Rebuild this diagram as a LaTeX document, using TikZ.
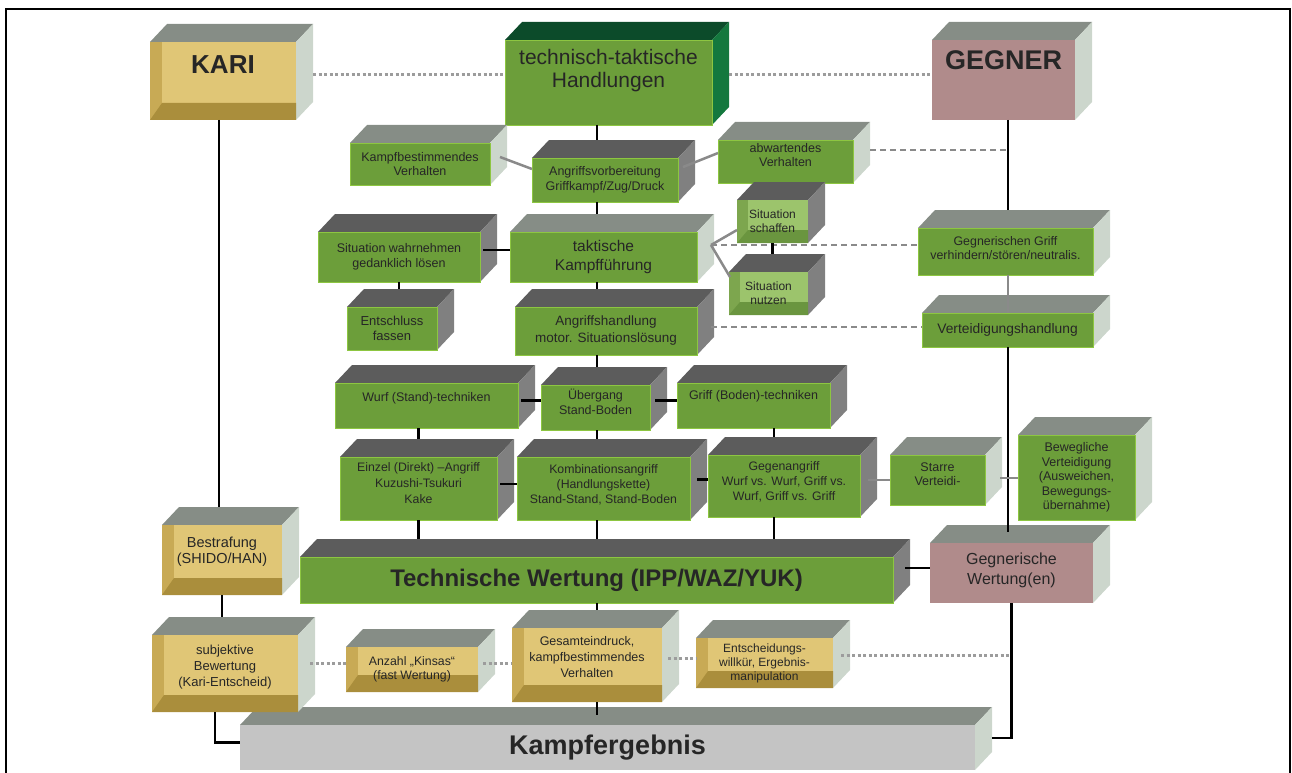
\documentclass[tikz,border=0pt]{standalone}
\usepackage{fontspec}
\setmainfont{Liberation Sans}
\usetikzlibrary{calc}

\definecolor{boxgreen}{HTML}{6C9E3A}
\definecolor{edgegreen}{HTML}{8DC641}
\definecolor{topgrey}{HTML}{868D86}
\definecolor{sidegrey}{HTML}{CCD6CC}
\definecolor{topdark}{HTML}{5C5C5C}
\definecolor{sidedark}{HTML}{808080}
\definecolor{tttop}{HTML}{0C4B2A}
\definecolor{ttside}{HTML}{14783E}
\definecolor{kgold}{HTML}{C8AA55}
\definecolor{kgoldlt}{HTML}{E0C676}
\definecolor{kgolddk}{HTML}{AA8E3C}
\definecolor{sitbase}{HTML}{7DA64E}
\definecolor{sitlt}{HTML}{9CC46C}
\definecolor{sitdk}{HTML}{6A953F}
\definecolor{rosy}{HTML}{B08B8B}
\definecolor{ergrey}{HTML}{C4C4C4}
\definecolor{linegrey}{HTML}{8A8A8A}
\definecolor{dotgrey}{HTML}{9C9C9C}

% text block raised inside its box
\newcommand\liftup[2]{\raisebox{#1}[\height][\depth]{\begin{tabular}{@{}c@{}}#2\end{tabular}}}

\begin{document}
\begin{tikzpicture}[
        %one unit is one pixel of the sheet, y runs downwards
        x=1pt, y=-1pt,
        every node/.style={inner sep=2pt, outer sep=0pt, align=center, text=black!85},
        wh/.style 2 args={minimum width=#1pt, minimum height=#2pt},
        fs/.style 2 args={font=\fontsize{#1}{#2}\selectfont},
        % front face plus top and side face
        cube/.style n args={3}{fill=#1, append after command={\pgfextra{
            \fill[#2] (\tikzlastnode.north west) -- ++(17pt,18pt)
                -- ([shift={(17pt,18pt)}]\tikzlastnode.north east) -- (\tikzlastnode.north east) -- cycle;
            \fill[#3] (\tikzlastnode.north east) -- ++(17pt,18pt)
                -- ([shift={(17pt,18pt)}]\tikzlastnode.south east) -- (\tikzlastnode.south east) -- cycle;}}},
        bevel/.style n args={4}{path picture={
            \fill[#1] ([xshift=#3pt]path picture bounding box.north west)
                rectangle ([yshift=#4pt]path picture bounding box.south east);
            \fill[#2] (path picture bounding box.south west)
                -- ([shift={(#3pt,#4pt)}]path picture bounding box.south west)
                -- ([yshift=#4pt]path picture bounding box.south east)
                -- (path picture bounding box.south east) -- cycle;}},
        flatbox/.style={cube={boxgreen}{topdark}{sidedark}, draw=edgegreen, line width=0.8pt},
        litebox/.style={cube={boxgreen}{topgrey}{sidegrey}, draw=edgegreen, line width=0.8pt},
        goldbox/.style={cube={kgold}{topgrey}{sidegrey}, bevel={kgoldlt}{kgolddk}{12}{17}},
        sitbox/.style={cube={sitbase}{topdark}{sidedark}, bevel={sitlt}{sitdk}{11}{13}},
        rosebox/.style={cube={rosy}{topgrey}{sidegrey}},
        small/.style={fs={12.5}{14.5}},
        link/.style={line width=2.5pt},
        glink/.style={line width=2.5pt, draw=linegrey},
        dashlink/.style={line width=2pt, draw=linegrey, dash pattern=on 6pt off 4pt},
        dotlink/.style={line width=3pt, draw=dotgrey, dash pattern=on 3pt off 2.5pt}
     ]
\useasboundingbox (0,0) rectangle (1292,773);
\draw[line width=2pt] (6,773) -- (6,9) -- (1290,9) -- (1290,773);

% columns of the long vertical lines
\coordinate (trunk) at (597,0);
\coordinate (gcol) at (774,0);
\coordinate (gline) at (1008,0);

% top row
\node[goldbox, wh={146}{78}, font=\fontsize{26}{28}\selectfont\bfseries,
      text height=19pt, text depth=33pt] (kari) at (223,81) {KARI};
\node[cube={boxgreen}{tttop}{ttside}, draw=edgegreen, line width=0.8pt, wh={207}{85},
      fs={21}{23.5}] (tt) at (608.5,82.5) {\liftup{11pt}{technisch-taktische\\Handlungen}};
\node[rosebox, wh={143}{80}, font=\fontsize{27}{29}\selectfont\bfseries,
      text height=20pt, text depth=40pt] (gegner) at (1003.5,80) {GEGNER};

% attack preparation
\node[litebox, wh={140}{42}, fs={12.5}{13.5}] (kampfbest) at (420,164) {Kampfbestimmendes\\Verhalten};
\node[flatbox, wh={146}{44}, small] (angrvorb) at (605,180) {Angriffsvorbereitung\\Griffkampf/Zug/Druck};
\node[litebox, wh={135}{43}, fs={12.5}{14.5}] (abwart) at (785.5,161.5) {\liftup{5pt}{abwartendes\\Verhalten}};

% tactics
\node[flatbox, wh={162}{50}, fs={12.5}{15}] (sitwahr) at (399,257) {Situation wahrnehmen\\gedanklich lösen};
\node[litebox, wh={187}{50}, fs={15.5}{18.5}] (taktisch) at (603.5,257) {taktische\\Kampfführung};
\node[sitbox, wh={71}{43}, fs={12}{14}] (sitschaff) at (772.5,221.5) {Situation\\schaffen};
\node[sitbox, wh={79}{43}, fs={12}{14}] (sitnutz) at (768.5,293.5) {Situation\\nutzen};
\node[litebox, wh={175}{47}, fs={12.4}{14.5}] (ggriff) at (1005.5,251.5) {\liftup{2pt}{Gegnerischen Griff\\verhindern/stören/neutralis.}};
\node[flatbox, wh={90}{43}, fs={13}{15}] (entschluss) at (392,328.5) {Entschluss\\fassen};
\node[flatbox, wh={182}{48}, fs={13.5}{17}] (angrhandl) at (606,331) {Angriffshandlung\\motor. Situationslösung};
\node[litebox, wh={171}{34}, fs={13.8}{16}] (verteid) at (1007.5,330) {Verteidigungshandlung};

% techniques
\node[flatbox, wh={183}{45}, small, text height=9pt, text depth=17pt] (wurf) at (426.5,405.5) {Wurf (Stand)-techniken};
\node[flatbox, wh={109}{45}, fs={12.5}{15}] (uebergang) at (595.5,407.5) {\liftup{4pt}{Übergang\\Stand-Boden}};
\node[flatbox, wh={153}{45}, small, text height=9pt, text depth=21pt] (griff) at (753.5,405.5) {Griff (Boden)-techniken};
\node[flatbox, wh={157}{63}, fs={12.3}{16}] (einzel) at (418.5,488.5) {\liftup{4pt}{Einzel (Direkt) –Angriff\\Kuzushi-Tsukuri\\Kake}};
\node[flatbox, wh={173}{63}, fs={12.3}{15}] (kombi) at (603.5,488.5) {\liftup{3pt}{Kombinationsangriff\\(Handlungskette)\\Stand-Stand, Stand-Boden}};
\node[flatbox, wh={152}{62}, fs={12.3}{15}] (gegenangr) at (784,486) {\liftup{4pt}{Gegenangriff\\Wurf vs. Wurf, Griff vs.\\Wurf, Griff vs. Griff}};
\node[litebox, wh={95}{50}, fs={12.5}{14}] (starre) at (937.5,480) {\liftup{4pt}{Starre\\Verteidi-}};
\node[litebox, wh={117}{85}, fs={12.5}{14.5}] (beweglich) at (1076.5,477.5) {Bewegliche\\Verteidigung\\(Ausweichen,\\Bewegungs-\\übernahme)};

% scoring
\node[goldbox, wh={120}{70}, fs={14.5}{16.5}] (bestrafung) at (222,560) {\liftup{8pt}{Bestrafung\\(SHIDO/HAN)}};
\node[flatbox, wh={593}{46}, font=\fontsize{24}{26}\selectfont\bfseries] (techwert) at (596.5,580) {Technische Wertung (IPP/WAZ/YUK)};
\node[rosebox, wh={163}{60}, fs={16}{20}] (gwertung) at (1011.5,573) {\liftup{2.5pt}{Gegnerische\\Wertung(en)}};
\node[cube={ergrey}{topgrey}{sidegrey}, wh={735}{45}, font=\fontsize{27}{29}\selectfont\bfseries] (kampferg) at (607.5,747.5) {Kampfergebnis};
\node[goldbox, wh={146}{77}, fs={13}{16}] (subjektiv) at (225,673.5) {\liftup{6pt}{subjektive\\Bewertung\\(Kari-Entscheid)}};
\node[goldbox, wh={132}{45}, fs={12.3}{13.5}] (anzahl) at (412,669.5) {Anzahl „Kinsas“\\(fast Wertung)};
\node[goldbox, wh={150}{74}, fs={12.5}{16}] (gesamt) at (587,665) {\liftup{7pt}{Gesamteindruck,\\kampfbestimmendes\\Verhalten}};
\node[goldbox, wh={137}{50}, fs={12}{14}] (entscheid) at (764.5,663) {Entscheidungs-\\willkür, Ergebnis-\\manipulation};

% dotted and dashed relations
\draw[dotlink] ($(kari.east)+(17,-6)$) -- ($(tt.west)+(0,-7.5)$);
\draw[dotlink] ($(tt.east)+(17,-7.5)$) -- ($(gegner.west)+(0,-5)$);
\draw[dashlink] ($(abwart.east)+(17,-12)$) -- ($(gline |- abwart.east)+(0,-12)$);
\coordinate (tip) at ($(taktisch.east)+(14,-12)$);
\draw[dashlink] (tip) -- (tip -| ggriff.west);
\draw[dashlink] ($(angrhandl.east)+(14,-4)$) -- ($(angrhandl.east -| verteid.west)+(0,-4)$);
\draw[dotlink] ($(subjektiv.east)+(12,-10.5)$) -- ($(subjektiv.east -| anzahl.west)+(0,-10.5)$);
\draw[dotlink] ($(anzahl.east)+(5,-6.5)$) -- ($(anzahl.east -| gesamt.west)+(0,-6.5)$);
\draw[dotlink] ($(gesamt.east)+(6,-7)$) -- ($(gesamt.east -| entscheid.west)+(0,-7)$);
\draw[dotlink] ($(entscheid.east)+(8,-8)$) -- ($(entscheid.east -| gwertung.south)+(0,-8)$);

% main line
\draw[link] (trunk |- tt.south) -- ($(trunk |- angrvorb.north)+(0,-18)$);
\draw[link] (trunk |- angrvorb.south) -- ($(trunk |- taktisch.north)+(0,-18)$);
\draw[link] (trunk |- taktisch.south) -- ($(trunk |- angrhandl.north)+(0,-18)$);
\draw[link] (trunk |- angrhandl.south) -- ($(trunk |- uebergang.north)+(0,-18)$);
\draw[link] (trunk |- uebergang.south) -- ($(trunk |- kombi.north)+(0,-18)$);
\draw[link] (trunk |- kombi.south) -- ($(trunk |- techwert.north)+(0,-18)$);
\draw[link] (trunk |- techwert.south) -- ($(trunk |- gesamt.north)+(0,-18)$);
\draw[link] (trunk |- gesamt.south) -- ($(trunk |- kampferg.north)+(0,-10)$);

% side links
\draw[glink] ($(kampfbest.east)+(10,-7)$) -- ($(angrvorb.west)+(0,-11)$);
\draw[glink] ($(angrvorb.east)+(5,-13)$) -- ($(abwart.west)+(0,-8.5)$);
\draw[link] ($(sitwahr.east)+(3,-7)$) -- ($(taktisch.west)+(0,-7)$);
\draw[link] (sitwahr.south) -- ($(sitwahr.south |- entschluss.north)+(0,-18)$);
\draw[glink] (tip) -- ($(sitschaff.west)+(0,8.5)$);
\draw[glink] (tip) -- ($(sitnutz.west)+(1,-16.5)$);
\draw[link] (sitschaff.south) -- ($(sitschaff.south |- sitnutz.north)+(0,-18)$);
\draw[link] ($(wurf.east)+(3,-5)$) -- ($(wurf.east -| uebergang.west)+(0,-5)$);
\draw[link] ($(uebergang.east)+(5,-7)$) -- ($(uebergang.east -| griff.west)+(0,-7)$);
\draw[link] (einzel.north |- wurf.south) -- ($(einzel.north)+(0,-18)$);
\draw[link] (gcol |- griff.south) -- ($(gcol |- gegenangr.north)+(0,-18)$);
\draw[link] ($(einzel.east)+(3,-4.5)$) -- ($(einzel.east -| kombi.west)+(0,-4.5)$);
\draw[link] ($(kombi.east)+(7,-9)$) -- ($(kombi.east -| gegenangr.west)+(0,-9)$);
\draw[link] (einzel.south) -- ($(einzel.south |- techwert.north)+(0,-18)$);
\draw[link] (gcol |- gegenangr.south) -- ($(gcol |- techwert.north)+(0,-18)$);
\draw[link] ($(techwert.east)+(12,-12)$) -- ($(techwert.east -| gwertung.west)+(0,-12)$);

% referee and opponent lines
\draw[link] ($(kari.south)+(-4,0)$) -- ($(kari.south |- bestrafung.north)+(-4,-18)$);
\draw[link] (bestrafung.south) -- ($(bestrafung.south |- subjektiv.north)+(0,-18)$);
\draw[link] ($(subjektiv.south)+(-10,0)$) |- ($(kampferg.west)+(0,-5)$);
\draw[link] (gline |- gegner.south) -- ($(gline |- ggriff.north)+(0,-18)$);
\draw[glink] (gline |- ggriff.south) -- (gline |- verteid.north);
\draw[link] (gline |- verteid.south) -- ($(gline |- gwertung.north)+(0,-11)$);
\draw[link] (gwertung.south) |- ($(kampferg.east)+(17,-9.5)$);
\draw[glink] ($(gegenangr.east)+(8,-6)$) -- ($(gegenangr.east -| starre.west)+(0,-6)$);
\draw[glink] ($(starre.east)+(15,-2)$) -- ($(starre.east -| beweglich.west)+(0,-2)$);
\end{tikzpicture}
\end{document}
